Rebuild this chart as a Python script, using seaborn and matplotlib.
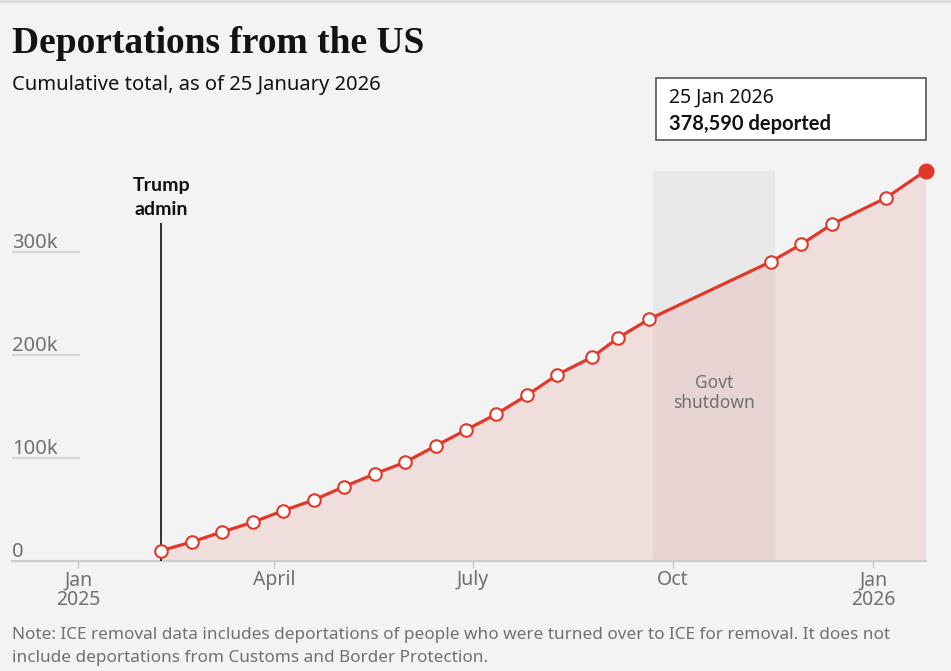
import pandas as pd
import matplotlib.pyplot as plt
import matplotlib.dates as mdates
import matplotlib.transforms as mtransforms
from matplotlib.lines import Line2D
from matplotlib.patches import Rectangle
import seaborn as sns

# fortnightly ICE removal totals (cumulative)
dates = ['2025-02-08', '2025-02-22', '2025-03-08', '2025-03-22', '2025-04-05',
         '2025-04-19', '2025-05-03', '2025-05-17', '2025-05-31', '2025-06-14',
         '2025-06-28', '2025-07-12', '2025-07-26', '2025-08-09', '2025-08-25',
         '2025-09-06', '2025-09-20', '2025-11-15', '2025-11-29', '2025-12-13',
         '2026-01-07', '2026-01-25']
deported = [9700, 18200, 27900, 37300, 48500, 58900, 71800, 84200, 95500, 111400,
            126900, 142400, 160600, 180600, 197800, 216500, 234400, 290300,
            307200, 326600, 352400, 378590]

y_ticks = [0, 100000, 200000, 300000]
y_labels = ['0', '100k', '200k', '300k']
x_ticks = ['2025-01-01', '2025-04-01', '2025-07-01', '2025-10-01', '2026-01-01']
x_labels = ['Jan\n2025', 'April', 'July', 'Oct', 'Jan\n2026']

trump_start = '2025-02-08'
shutdown = ('2025-09-22', '2025-11-17')

df = pd.DataFrame({'date': pd.to_datetime(dates), 'deported': deported})

BG = '#f3f3f3'
RED = '#e0392b'
GREY = '#707070'
BOLD = ['Lato', 'DejaVu Sans']

sns.set_theme(style='white', rc={'figure.facecolor': BG, 'axes.facecolor': BG})
plt.rcParams['font.family'] = ['Noto Sans', 'DejaVu Sans']

W, H = 951, 671
fig = plt.figure(figsize=(W / 100, H / 100), dpi=100)
ax = fig.add_axes([12 / W, (H - 560.7) / H, (926 - 12) / W, 410.7 / H])

start = pd.Timestamp('2025-01-01')
ax.set_xlim(mdates.date2num(start - pd.Timedelta(days=30.44)),
            mdates.date2num(start + pd.Timedelta(days=389.2)))
ax.set_ylim(0, 398700)

# shaded shutdown period
ax.axvspan(pd.Timestamp(shutdown[0]), pd.Timestamp(shutdown[1]),
           ymin=0, ymax=max(deported) / 398700, color='#e8e8e8', lw=0, zorder=0)
ax.text(pd.Timestamp('2025-10-20'), 163000, 'Govt\nshutdown', ha='center', va='center',
        fontsize=12.5, color=GREY, linespacing=1.15, zorder=5)

# area + line
ax.fill_between(df['date'], df['deported'], color=RED, alpha=0.11, lw=0, zorder=1)
sns.lineplot(data=df, x='date', y='deported', ax=ax, color=RED, lw=2.3,
             marker='o', markersize=9, markerfacecolor='white',
             markeredgecolor=RED, markeredgewidth=1.5, zorder=4, clip_on=False)
ax.plot(df['date'].iloc[-1], df['deported'].iloc[-1], 'o', color=RED,
        markersize=10.5, zorder=6, clip_on=False)

# trump admin marker line
ax.vlines(pd.Timestamp(trump_start), 0, 328000, color='#111111', lw=1.2, zorder=3)
ax.text(pd.Timestamp(trump_start), 333000, 'Trump\nadmin', ha='center', va='bottom',
        fontsize=14, fontweight='bold', family=BOLD, color='#111111', linespacing=1.45)

# y gridlines and labels
trans = mtransforms.blended_transform_factory(ax.transAxes, ax.transData)
for v in y_ticks[1:]:
    ax.axhline(v, xmin=0, xmax=(79 - 12) / 914, color='#d6d6d6', lw=1.5, zorder=1)
for v, lab in zip(y_ticks, y_labels):
    ax.annotate(lab, xy=(0, v), xycoords=trans, xytext=(0, 3), textcoords='offset points',
                ha='left', va='baseline', fontsize=14.5, color=GREY)

ax.set_yticks([])
ax.set_xticks(pd.to_datetime(x_ticks))
ax.set_xticklabels(x_labels, fontsize=14, color=GREY, linespacing=1.0)
ax.tick_params(axis='x', length=5, width=1, color='#cccccc', pad=2, bottom=True)
ax.set_xlabel('')
ax.set_ylabel('')
for s in ['top', 'right', 'left']:
    ax.spines[s].set_visible(False)
ax.spines['bottom'].set_color('#cccccc')
ax.spines['bottom'].set_linewidth(1.6)

# header
fig.add_artist(Line2D([0, 1], [1 - 1 / H, 1 - 1 / H], color='#dcdcdc', lw=2))
fig.text(12 / W, 1 - 53 / H, 'Deportations from the US', fontsize=27, fontweight='bold',
         family='Liberation Serif', color='#121212', va='baseline')
fig.text(12 / W, 1 - 90 / H, 'Cumulative total, as of 25 January 2026', fontsize=14.5,
         color='#121212', va='baseline')

# callout box
fig.add_artist(Rectangle((656 / W, 1 - 140 / H), (926 - 656) / W, 62 / H,
                         transform=fig.transFigure, facecolor='white',
                         edgecolor='#555555', lw=1.2))
fig.text(669 / W, 1 - 103 / H, '25 Jan 2026', fontsize=14, color='#121212', va='baseline')
fig.text(669 / W, 1 - 130 / H, '378,590 deported', fontsize=14.5, fontweight='bold',
         family=BOLD, color='#121212', va='baseline')

# footnote
fig.text(12 / W, 1 - 639 / H,
         'Note: ICE removal data includes deportations of people who were turned over to ICE for removal. It does not',
         fontsize=12.35, color=GREY, va='baseline')
fig.text(12 / W, 1 - 662 / H, 'include deportations from Customs and Border Protection.',
         fontsize=12.35, color=GREY, va='baseline')

fig.savefig('out.png', dpi=100, facecolor=BG)
